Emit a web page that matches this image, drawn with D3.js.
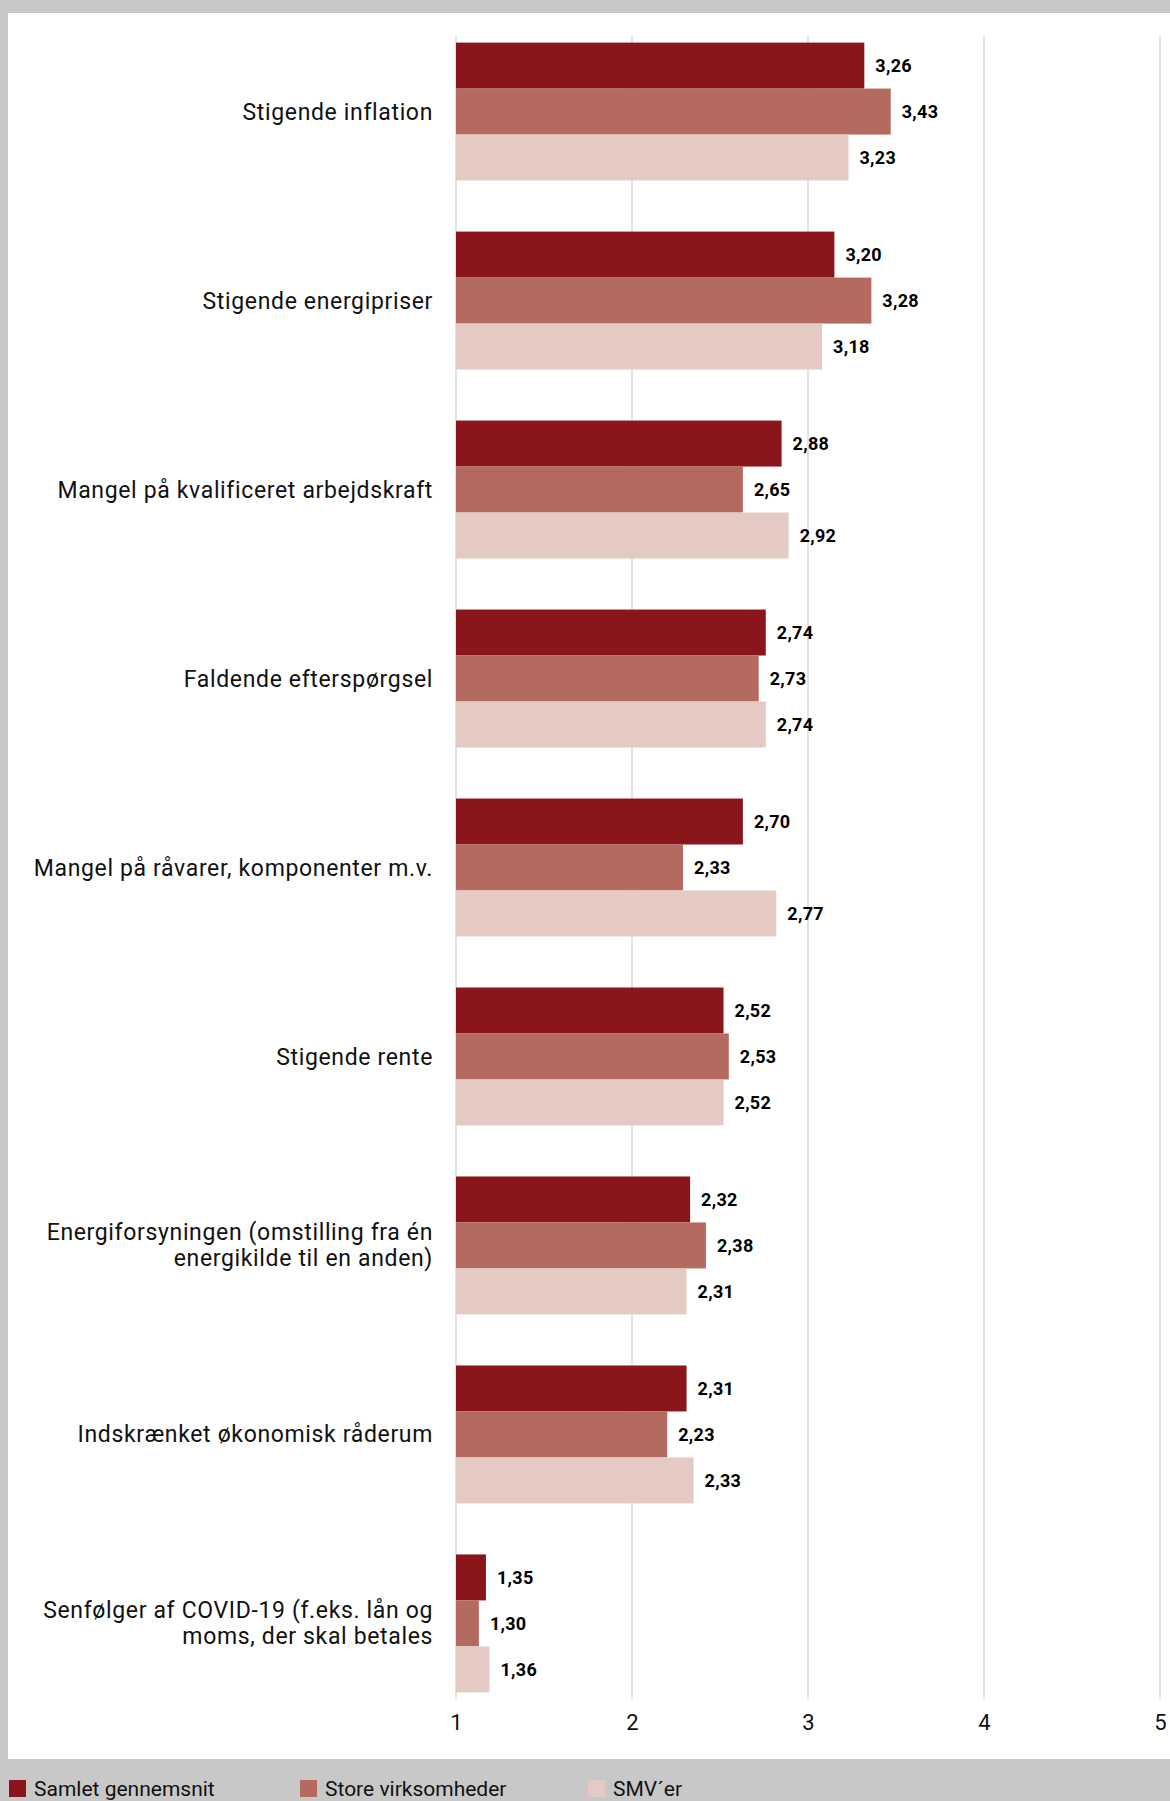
<!DOCTYPE html>
<meta charset="utf-8">
<script src="https://d3js.org/d3.v7.min.js"></script>
<style>
  body { margin: 0; background: #c8c8c8; }
</style>
<div id="my_dataviz"></div>
<script>

// categories (one entry per line of the label)
var categories = [
  ["Stigende inflation"],
  ["Stigende energipriser"],
  ["Mangel på kvalificeret arbejdskraft"],
  ["Faldende efterspørgsel"],
  ["Mangel på råvarer, komponenter m.v."],
  ["Stigende rente"],
  ["Energiforsyningen (omstilling fra én", "energikilde til en anden)"],
  ["Indskrænket økonomisk råderum"],
  ["Senfølger af COVID-19 (f.eks. lån og", "moms, der skal betales"]
];

var seriesNames = ["Samlet gennemsnit", "Store virksomheder", "SMV´er"];
var seriesColors = ["#8a161c", "#b46a5e", "#e5cac4"];

// bar lengths as drawn in the picture
var samlet = [3.32, 3.15, 2.85, 2.76, 2.63, 2.52, 2.33, 2.31, 1.17];
var store  = [3.47, 3.36, 2.63, 2.72, 2.29, 2.55, 2.42, 2.20, 1.13];
var smv    = [3.23, 3.08, 2.89, 2.76, 2.82, 2.52, 2.31, 2.35, 1.19];

// the numbers printed next to the bars
var samletLabels = ["3,26", "3,20", "2,88", "2,74", "2,70", "2,52", "2,32", "2,31", "1,35"];
var storeLabels  = ["3,43", "3,28", "2,65", "2,73", "2,33", "2,53", "2,38", "2,23", "1,30"];
var smvLabels    = ["3,23", "3,18", "2,92", "2,74", "2,77", "2,52", "2,31", "2,33", "1,36"];

var xTicks = [1, 2, 3, 4, 5];

var W = 1170, H = 1801;

var svg = d3.select("#my_dataviz")
  .append("svg")
    .attr("width", W)
    .attr("height", H)
    .style("display", "block");

// grey frame + white panel
svg.append("rect").attr("width", W).attr("height", H).attr("fill", "#c8c8c8");
svg.append("rect")
  .attr("x", 8).attr("y", 13)
  .attr("width", W - 8).attr("height", 1746)
  .attr("fill", "#ffffff");

var x = d3.scaleLinear()
  .domain([1, 5])
  .range([456, 1160]);

var y = d3.scaleBand()
  .domain(d3.range(categories.length))
  .range([36, 1699])
  .paddingInner(0.27)
  .paddingOuter(0.035);

var ySub = d3.scaleBand()
  .domain(d3.range(3))
  .range([0, y.bandwidth()]);

// gridlines
svg.append("g")
  .selectAll("line")
  .data(xTicks)
  .enter().append("line")
    .attr("x1", function(d) { return x(d); })
    .attr("x2", function(d) { return x(d); })
    .attr("y1", 36)
    .attr("y2", 1699)
    .attr("stroke", "#dadada")
    .attr("stroke-width", 1.5);

// x axis labels
var xAxis = svg.append("g")
  .attr("transform", "translate(0,1714)")
  .call(d3.axisBottom(x).tickValues(xTicks).tickSize(0).tickPadding(0).tickFormat(d3.format("d")));
xAxis.select(".domain").remove();
xAxis.selectAll("text")
  .attr("font-family", "Roboto, sans-serif")
  .attr("font-size", 22)
  .attr("fill", "#111")
  .attr("dy", "0.71em");

// rows: one entry per series
var series = [
  { values: samlet, labels: samletLabels },
  { values: store,  labels: storeLabels },
  { values: smv,    labels: smvLabels }
];

var groups = svg.append("g")
  .selectAll("g")
  .data(categories)
  .enter().append("g")
    .attr("transform", function(d, i) { return "translate(0," + y(i) + ")"; });

groups.each(function(cat, i) {
  var g = d3.select(this);
  series.forEach(function(s, j) {
    g.append("rect")
      .attr("x", x(1))
      .attr("y", ySub(j))
      .attr("width", x(s.values[i]) - x(1))
      .attr("height", ySub.bandwidth())
      .attr("fill", seriesColors[j]);

    g.append("text")
      .attr("x", x(s.values[i]) + 11)
      .attr("y", ySub(j) + ySub.bandwidth() / 2)
      .attr("dy", "0.35em")
      .attr("font-family", "Roboto, sans-serif")
      .attr("font-weight", 700)
      .attr("font-size", 18)
      .attr("letter-spacing", 0.3)
      .attr("fill", "#000")
      .text(s.labels[i]);
  });

  // category label, right aligned
  var lineH = 26;
  var t = g.append("text")
    .attr("text-anchor", "end")
    .attr("font-family", "Roboto, sans-serif")
    .attr("font-size", 23)
    .attr("letter-spacing", 0.65)
    .attr("fill", "#111");
  cat.forEach(function(line, k) {
    t.append("tspan")
      .attr("x", 433)
      .attr("y", y.bandwidth() / 2 + (k - (cat.length - 1) / 2) * lineH)
      .attr("dy", "0.35em")
      .text(line);
  });
});

// legend
var legend = svg.append("g")
  .selectAll("g")
  .data(seriesNames)
  .enter().append("g")
    .attr("transform", function(d, i) { return "translate(" + [9, 300, 588][i] + ",1780)"; });

legend.append("rect")
  .attr("width", 17)
  .attr("height", 17)
  .attr("fill", function(d, i) { return seriesColors[i]; });

legend.append("text")
  .attr("x", 25)
  .attr("y", 9)
  .attr("dy", "0.35em")
  .attr("font-family", "Roboto, sans-serif")
  .attr("font-size", 21)
  .attr("fill", "#111")
  .text(function(d) { return d; });

</script>
